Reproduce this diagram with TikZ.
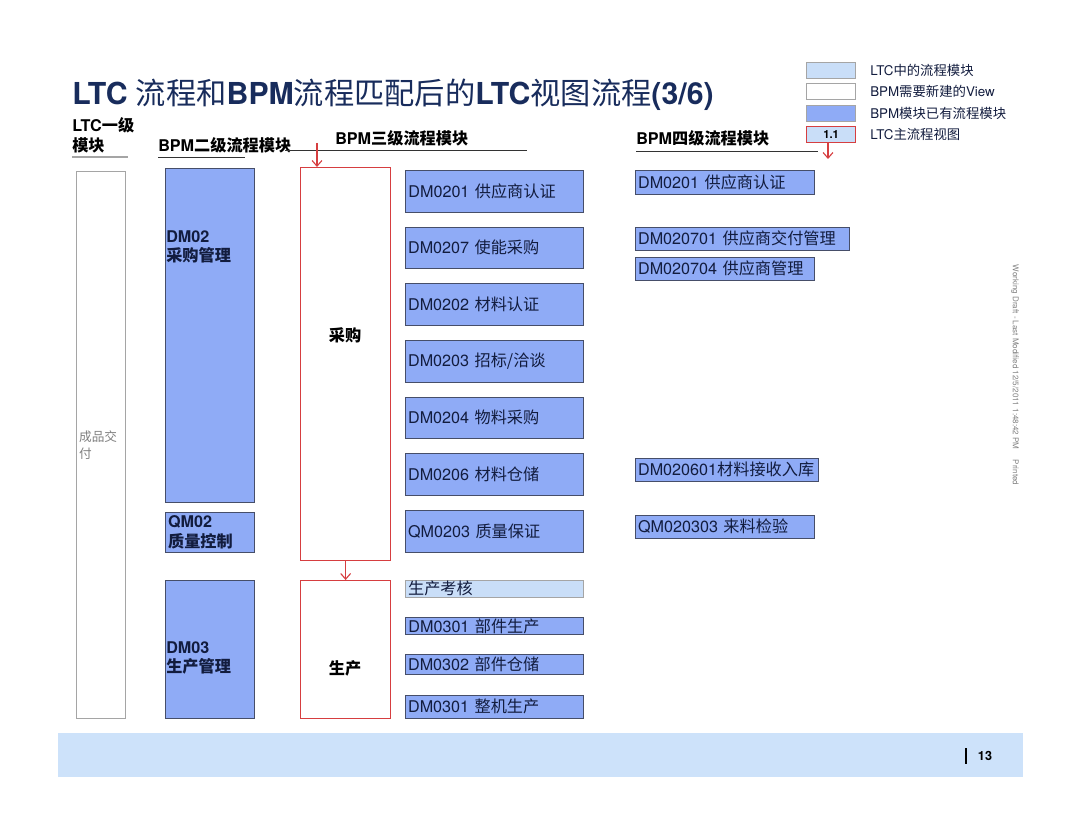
\documentclass[tikz,border=0pt]{standalone}
\usepackage{fontspec}
\setmainfont{TeX Gyre Heros}
\newfontfamily\cjk{Noto Sans CJK SC}
\newcommand{\zh}[1]{{\cjk #1}}
\newcommand{\zhl}[1]{{\cjk\mdseries #1}}
\newcommand{\modfont}{\fontsize{11.5}{13}\selectfont}
\newcommand{\headfont}{\bfseries\fontsize{11.5}{14}\selectfont}
\usetikzlibrary{positioning,arrows.meta}
\definecolor{bpmblue}{RGB}{143,171,246}
\definecolor{ltcblue}{RGB}{201,222,248}
\definecolor{bandblue}{RGB}{205,226,250}
\definecolor{boxline}{RGB}{70,78,105}
\definecolor{titleblue}{RGB}{24,44,92}
\definecolor{textnavy}{RGB}{18,28,62}
\definecolor{redline}{RGB}{214,62,64}
\definecolor{greyline}{RGB}{165,165,165}
\tikzset{
    >={Straight Barb[length=4pt,width=7pt]},
    modbox/.style={rectangle, draw=boxline, anchor=north west, inner xsep=2pt, inner ysep=0pt, align=left, font=\modfont, text=textnavy},
    lvlone/.style={modbox, draw=greyline, fill=white, text width=1.08cm, font=\fontsize{9}{12}\selectfont, text=gray},
    lvltwo/.style={modbox, fill=bpmblue, text width=2.08cm, font=\headfont},
    twolabel/.style={anchor=west, align=left, inner sep=0pt, font=\headfont, text=textnavy},
    lvlthree/.style={modbox, fill=bpmblue, text width=4.31cm},
    lvlfour/.style={modbox, fill=bpmblue, text width=#1},
    lvlfour/.default=4.33cm,
    viewbox/.style={rectangle, draw=redline, line width=0.9pt, fill=white, anchor=north west, minimum width=2.25cm, minimum height=#1},
    viewlabel/.style={font=\headfont, text=black},
    head/.style={anchor=west, inner sep=0pt, font=\headfont, text=black},
    legbox/.style={rectangle, draw=greyline, anchor=north west, minimum width=1.225cm, minimum height=0.4cm, inner sep=0pt, font=\bfseries\fontsize{8}{9}\selectfont},
    legtext/.style={anchor=west, inner sep=0pt, font=\fontsize{9.5}{11}\selectfont, text=textnavy},
    redarrow/.style={->, draw=redline, line width=0.8pt}
}
\begin{document}
\begin{tikzpicture}[x=0.025cm, y=-0.025cm]
    \useasboundingbox (0,0) rectangle (1080,832);

    \node[anchor=west, inner sep=0pt, text=titleblue, font=\bfseries\fontsize{21.5}{24}\selectfont] (title) at (72,95)
        {LTC \zhl{流程和}BPM\zhl{流程匹配后的}LTC\zhl{视图流程}(3/6)};

    \node[legbox, fill=ltcblue] (lg1) at (806,62) {};
    \node[legbox, fill=white] (lg2) at (806,83) {};
    \node[legbox, fill=bpmblue] (lg3) at (806,105) {};
    \node[legbox, fill=ltcblue, draw=redline, line width=0.8pt] (lg4) at (806,126) {1.1};
    \node[legtext] (lgt1) at (870,70) {LTC\zh{中的流程模块}};
    \node[legtext] (lgt2) at (870,91) {BPM\zh{需要新建的}View};
    \node[legtext] (lgt3) at (870,113) {BPM\zh{模块已有流程模块}};
    \node[legtext] (lgt4) at (870,134) {LTC\zh{主流程视图}};
    \coordinate (lgend) at (828,159);
    \draw[redarrow] (lg4.south -| lgend) -- (lgend);

    \node[head] (h1a) at (72,125) {LTC\zh{一级}};
    \node[head] (h1b) at (72,145) {\zh{模块}};
    \node[head] (h2) at (158,145) {BPM\zh{二级流程模块}};
    \node[head] (h3) at (335,138) {BPM\zh{三级流程模块}};
    \node[head] (h4) at (636,138) {BPM\zh{四级流程模块}};
    \draw[greyline, line width=1.2pt] (72,157) -- (128,157);
    \draw[black!80, line width=0.7pt] (158,157) -- (245,157);
    \draw[black!80, line width=0.7pt] (285,150) -- (527,150);
    \draw[black!80, line width=0.7pt] (636,151) -- (818,151);

    \node[lvlone, minimum height=13.675cm] (ltc) at (76,171) {\zh{成品交}\\\zh{付}};

    \node[lvltwo, minimum height=8.35cm] (dm02) at (165,168) {};
    \node[twolabel] (dm02lbl) at (166,247) {DM02\\\zh{采购管理}};
    \node[lvltwo, minimum height=1.0cm] (qm02) at (165,512) {QM02\\\zh{质量控制}};
    \node[lvltwo, minimum height=3.45cm] (dm03) at (165,580) {};
    \node[twolabel] (dm03lbl) at (166,658) {DM03\\\zh{生产管理}};

    \node[viewbox=9.825cm] (caigou) at (300,167) {};
    \node[viewlabel] (caigoulbl) at (345,335) {\zh{采购}};
    \node[viewbox=3.45cm] (shengchan) at (300,580) {};
    \node[viewlabel] (shengchanlbl) at (345,668) {\zh{生产}};
    \coordinate (cgin) at (317,143);
    \draw[redarrow] (cgin) -- (cgin |- caigou.north);
    \draw[redarrow] (caigou.south) -- (shengchan.north);

    \node[lvlthree, minimum height=1.05cm, thick] (m0201) at (405,170) {DM0201 \zh{供应商认证}};
    \node[lvlthree, minimum height=1.025cm] (m0207) at (405,227) {DM0207 \zh{使能采购}};
    \node[lvlthree, minimum height=1.05cm] (m0202) at (405,283) {DM0202 \zh{材料认证}};
    \node[lvlthree, minimum height=1.05cm] (m0203) at (405,340) {DM0203 \zh{招标/洽谈}};
    \node[lvlthree, minimum height=1.025cm] (m0204) at (405,397) {DM0204 \zh{物料采购}};
    \node[lvlthree, minimum height=1.05cm] (m0206) at (405,453) {DM0206 \zh{材料仓储}};
    \node[lvlthree, minimum height=1.05cm] (q0203) at (405,510) {QM0203 \zh{质量保证}};
    \node[lvlthree, minimum height=0.425cm, fill=ltcblue, draw=greyline] (kaohe) at (405,580) {\zh{生产考核}};
    \node[lvlthree, minimum height=0.425cm, thick] (m0301a) at (405,617) {DM0301 \zh{部件生产}};
    \node[lvlthree, minimum height=0.5cm] (m0302) at (405,654) {DM0302 \zh{部件仓储}};
    \node[lvlthree, minimum height=0.575cm] (m0301b) at (405,695) {DM0301 \zh{整机生产}};

    \node[lvlfour, minimum height=0.6cm] (f0201) at (635,170) {DM0201 \zh{供应商认证}};
    \node[lvlfour=5.21cm, minimum height=0.575cm] (f020701) at (635,227) {DM020701 \zh{供应商交付管理}};
    \node[lvlfour, minimum height=0.575cm] (f020704) at (635,257) {DM020704 \zh{供应商管理}};
    \node[lvlfour=4.43cm, minimum height=0.575cm] (f020601) at (635,458) {DM020601\zh{材料接收入库}};
    \node[lvlfour, minimum height=0.575cm] (f020303) at (635,515) {QM020303 \zh{来料检验}};

    \node[rotate=-90, inner sep=0pt, text=gray, font=\fontsize{5.7}{6}\selectfont] (draft) at (1015,375)
        {Working Draft - Last Modified 12/5/2011 1:48:42 PM\quad\ Printed};

    \node[anchor=north west, fill=bandblue, minimum width=24.1cm, minimum height=1.1cm, inner sep=0pt] (band) at (58,733) {};
    \node[inner sep=0pt, font=\bfseries\fontsize{9}{10}\selectfont] (page) at (985,756) {13};
    \draw[black, line width=0.8pt] (966,748) -- (966,764);
\end{tikzpicture}
\end{document}
